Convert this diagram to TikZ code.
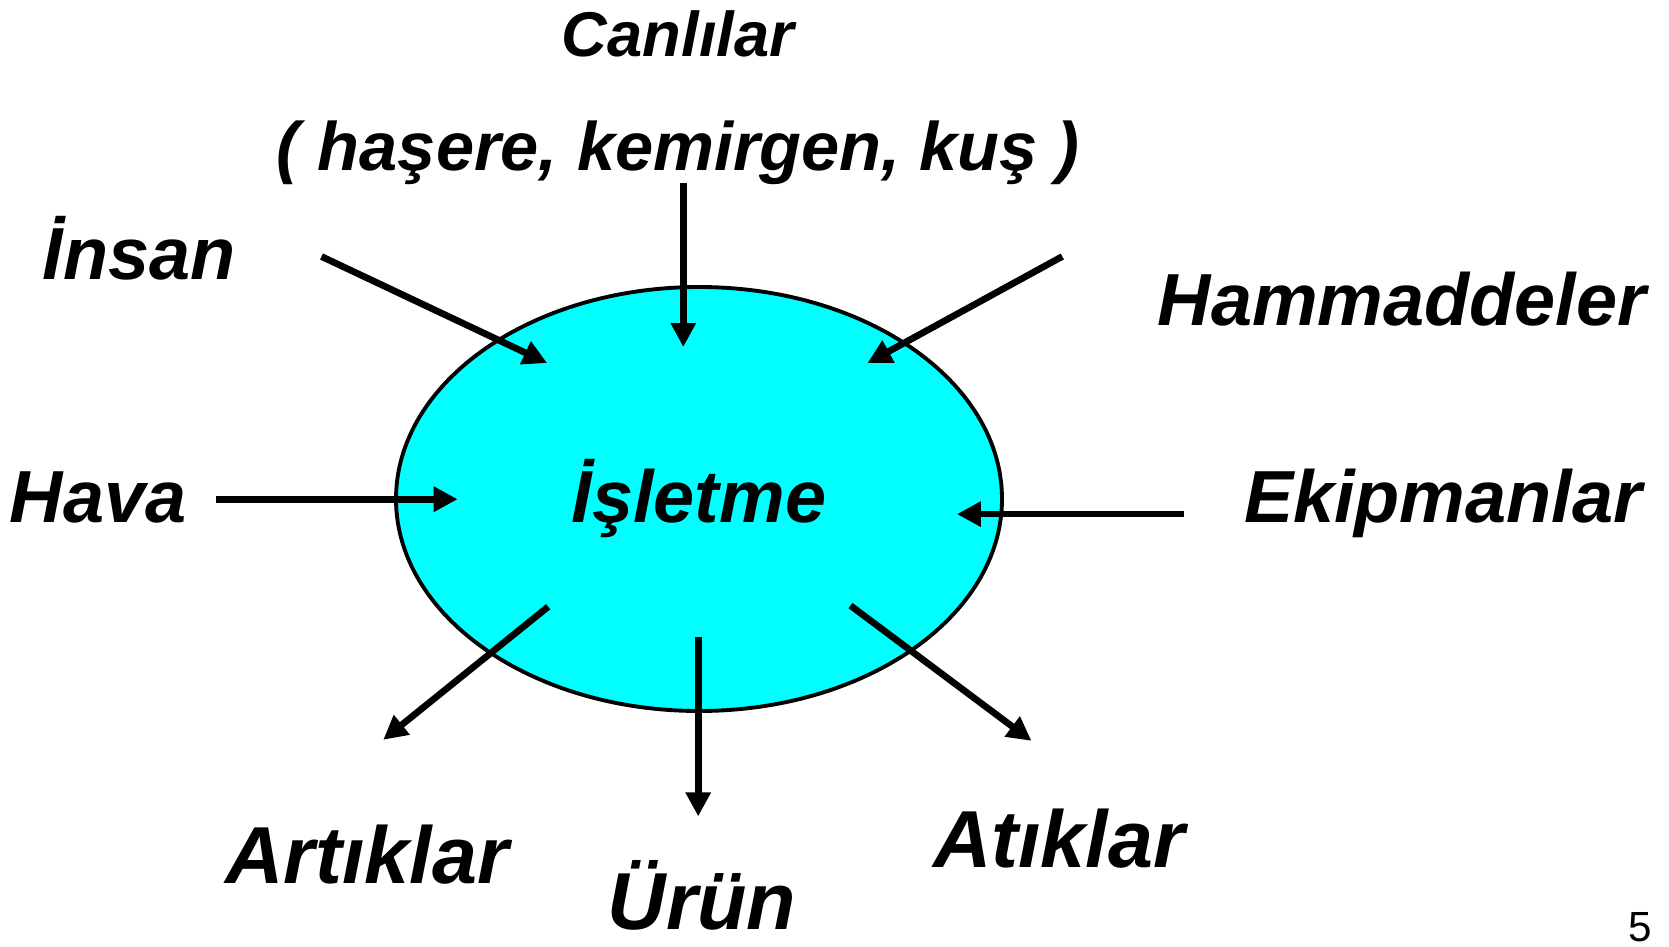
\documentclass[tikz,border=0pt]{standalone}
\usepackage{fontspec}
\setmainfont{Liberation Sans}
\usepackage{tikz}
\usetikzlibrary{shapes.geometric,arrows.meta,positioning}
\definecolor{plantcyan}{RGB}{0,255,255}

\begin{document}
\begin{tikzpicture}[
  plant/.style={ellipse, draw=black, line width=1.1pt, fill=plantcyan,
    minimum width=6.06cm, minimum height=4.24cm, inner sep=0pt,
    font=\fontsize{21}{25}\selectfont\bfseries\itshape},
  lbl/.style={anchor=base, inner sep=0pt, font=\fontsize{21}{25}\selectfont\bfseries\itshape},
  toplbl/.style={lbl, font=\fontsize{18}{22}\selectfont\bfseries\itshape},
  outlbl/.style={lbl, font=\fontsize{23}{27}\selectfont\bfseries\itshape},
  arr/.style={-{Triangle[length=2.4mm, width=2.4mm]}, black, line width=1.9pt}]
\useasboundingbox (0,0) rectangle (16.69,9.46);
\node[plant] (plant) at (6.99,4.47) {İşletme};
% girdiler
\node[toplbl] (canli) at (6.78,8.90) {Canlılar};
\node[toplbl, font=\fontsize{19.5}{23}\selectfont\bfseries\itshape] (canlialt) at (6.78,7.76) {( haşere, kemirgen, kuş )};
\node[lbl] (insan) at (1.39,6.67) {İnsan};
\node[lbl] (hamm) at (14.02,6.21) {Hammaddeler};
\node[lbl] (hava) at (0.98,4.24) {Hava};
\node[lbl] (ekip) at (14.43,4.24) {Ekipmanlar};
% çıktılar
\node[outlbl] (artik) at (3.67,0.63) {Artıklar};
\node[outlbl] (urun) at (7.02,0.17) {Ürün};
\node[outlbl] (atik) at (10.59,0.79) {Atıklar};
\node[anchor=base west, inner sep=0pt, font=\fontsize{12}{14}\selectfont] (sayfa) at (16.28,0.05) {5};
% ok uçları
\coordinate (insanA) at (3.215,6.895);  \coordinate (insanB) at (5.471,5.83);
\coordinate (canliA) at (6.833,7.629);  \coordinate (canliB) at (6.833,5.99);
\coordinate (hammA) at (10.623,6.895);  \coordinate (hammB) at (8.675,5.83);
\coordinate (havaA) at (2.161,4.468);   \coordinate (havaB) at (4.577,4.468);
\coordinate (ekipA) at (11.836,4.319);  \coordinate (ekipB) at (9.569,4.319);
\coordinate (artikA) at (5.482,3.393);  \coordinate (artikB) at (3.832,2.062);
\coordinate (urunA) at (6.982,3.095);   \coordinate (urunB) at (6.982,1.296);
\coordinate (atikA) at (8.505,3.404);   \coordinate (atikB) at (10.314,2.052);
\foreach \n in {insan,canli,hamm,hava,ekip,artik,urun,atik}
  \draw[arr] (\n A) -- (\n B);
\end{tikzpicture}
\end{document}
